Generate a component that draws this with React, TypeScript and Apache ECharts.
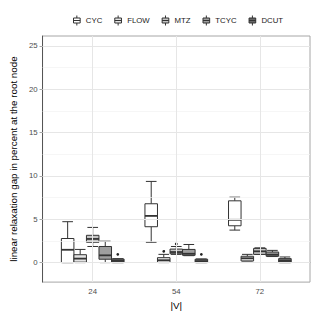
import React, { useEffect, useRef } from "react";
import * as echarts from "echarts";

const groups = ["24", "54", "72"];
const methods = ["CYC", "FLOW", "MTZ", "TCYC", "DCUT"];
const fills = ["#ffffff", "#e4e4e4", "#c5c5c5", "#9e9e9e", "#666666"];

// [lowerWhisker, q1, median, q3, upperWhisker] per |V| group
const cycStats = [
  [0, 0, 1.48, 2.78, 4.72],
  [2.35, 4.14, 5.39, 6.79, 9.37],
  [3.75, 4.25, 4.94, 7.13, 7.55],
];
const flowStats = [
  [0, 0.05, 0.46, 0.91, 1.52],
  [0, 0.02, 0.27, 0.57, 0.95],
  [0.19, 0.19, 0.5, 0.73, 0.95],
];
const mtzStats = [
  [1.86, 2.35, 2.73, 3.15, 4.06],
  [0.95, 1.02, 1.22, 1.56, 1.86],
  [0.95, 0.95, 1.3, 1.64, 1.7],
];
const tcycStats = [
  [0, 0.39, 0.84, 1.86, 2.47],
  [0.8, 0.84, 1.02, 1.52, 2.09],
  [0.7, 0.73, 0.91, 1.22, 1.41],
];
const dcutStats = [
  [0, 0, 0.19, 0.42, 0.45],
  [0, 0, 0.15, 0.39, 0.42],
  [0, 0, 0.19, 0.46, 0.65],
];
// outliers: [groupIndex, value]
const cycOut: number[][] = [];
const flowOut = [[1, 1.3]];
const mtzOut = [[1, 2.16]];
const tcycOut: number[][] = [];
const dcutOut = [
  [0, 0.95],
  [1, 0.95],
];

const yTicks = [0, 5, 10, 15, 20, 25];
const yMinor = [2.5, 7.5, 12.5, 17.5, 22.5];
const xTicks = [1, 2, 3];

const allStats = [cycStats, flowStats, mtzStats, tcycStats, dcutStats];
const allOut = [cycOut, flowOut, mtzOut, tcycOut, dcutOut];

const FONT = "Liberation Sans";
const DODGE = 0.15;

export default function App() {
  const ref = useRef<HTMLDivElement>(null);
  useEffect(() => {
    if (!ref.current) return;
    document.body.style.margin = "0";
    const chart = echarts.init(ref.current, null, { renderer: "svg" });

    const boxSeries = methods.map((name, s) => {
      const data = allStats[s].map((st, g) => {
        const outs = allOut[s].filter((o) => o[0] === g).map((o) => o[1]);
        return [g, ...st, ...outs];
      });
      return {
        name,
        type: "custom",
        z: 3,
        itemStyle: { color: fills[s] },
        data,
        renderItem: (params: any, api: any) => {
          const g = api.value(0);
          const xc = g + 1 + (s - 2) * DODGE;
          const lo = api.coord([xc, api.value(1)]);
          const q1 = api.coord([xc, api.value(2)]);
          const med = api.coord([xc, api.value(3)]);
          const q3 = api.coord([xc, api.value(4)]);
          const hi = api.coord([xc, api.value(5)]);
          const w = api.size([DODGE, 0])[0];
          const hw = w / 2;
          const cw = hw * 0.85;
          const x = lo[0];
          const stroke = "#333333";
          const children: any[] = [
            { type: "line", shape: { x1: x, y1: hi[1], x2: x, y2: q3[1] }, style: { stroke, lineWidth: 1 } },
            { type: "line", shape: { x1: x, y1: q1[1], x2: x, y2: lo[1] }, style: { stroke, lineWidth: 1 } },
            { type: "line", shape: { x1: x - cw, y1: hi[1], x2: x + cw, y2: hi[1] }, style: { stroke, lineWidth: 1 } },
            { type: "line", shape: { x1: x - cw, y1: lo[1], x2: x + cw, y2: lo[1] }, style: { stroke, lineWidth: 1 } },
            {
              type: "rect",
              shape: { x: x - hw, y: q3[1], width: w, height: Math.max(q1[1] - q3[1], 0.5) },
              style: { fill: fills[s], stroke, lineWidth: 1 },
            },
            { type: "line", shape: { x1: x - hw, y1: med[1], x2: x + hw, y2: med[1] }, style: { stroke, lineWidth: 1.8 } },
          ];
          const item = data[params.dataIndex];
          for (let k = 6; k < item.length; k++) {
            const p = api.coord([xc, item[k]]);
            children.push({ type: "circle", shape: { cx: p[0], cy: p[1], r: 1.4 }, style: { fill: "#222222" } });
          }
          return { type: "group", children };
        },
      };
    });

    const gridSeries = {
      name: "grid",
      type: "line",
      data: [],
      z: 1,
      silent: true,
      markLine: {
        silent: true,
        symbol: "none",
        animation: false,
        label: { show: false },
        data: [
          ...yMinor.map((v) => ({ yAxis: v, lineStyle: { color: "#f2f2f2", width: 0.7, type: "solid" } })),
          ...yTicks.map((v) => ({ yAxis: v, lineStyle: { color: "#e6e6e6", width: 1, type: "solid" } })),
          ...xTicks.map((v) => ({ xAxis: v, lineStyle: { color: "#e6e6e6", width: 1, type: "solid" } })),
        ],
      },
    };

    const legendPath = "path://M1,3 L9,3 L9,9 L1,9 Z M5,0 L5,3 M5,9 L5,12 M1,6 L9,6";

    chart.setOption({
      animation: false,
      textStyle: { fontFamily: FONT },
      legend: {
        data: methods,
        top: 10,
        left: 68,
        icon: legendPath,
        itemWidth: 8,
        itemHeight: 10,
        itemGap: 12,
        itemStyle: { borderColor: "#333333", borderWidth: 1 },
        textStyle: { fontSize: 7.8, color: "#1a1a1a", fontFamily: FONT },
      },
      grid: {
        left: 31,
        right: 5,
        top: 36,
        bottom: 29.5,
        show: true,
        borderColor: "#a6a6a6",
        borderWidth: 1,
        backgroundColor: "transparent",
      },
      xAxis: {
        type: "value",
        min: 0.4,
        max: 3.6,
        name: "|V|",
        nameLocation: "middle",
        nameGap: 15,
        nameTextStyle: { fontSize: 9.8, color: "#000000", fontFamily: FONT },
        axisLine: { show: true, lineStyle: { color: "#a6a6a6", width: 1 } },
        axisTick: { show: true, length: 3, customValues: xTicks, lineStyle: { color: "#a6a6a6" } },
        axisLabel: {
          customValues: xTicks,
          margin: 5,
          fontSize: 7.8,
          color: "#4d4d4d",
          fontFamily: FONT,
          formatter: (v: number) => groups[Math.round(v) - 1] ?? "",
        },
        splitLine: { show: false },
      },
      yAxis: {
        type: "value",
        min: -2.25,
        max: 26.15,
        name: "linear relaxation gap in percent at the root node",
        nameLocation: "middle",
        nameGap: 18,
        nameTextStyle: { fontSize: 9.8, color: "#000000", fontFamily: FONT },
        axisLine: { show: true, lineStyle: { color: "#555555", width: 1 } },
        axisTick: { show: true, length: 3, customValues: yTicks, lineStyle: { color: "#a6a6a6" } },
        axisLabel: {
          customValues: yTicks,
          margin: 5,
          fontSize: 7.8,
          color: "#4d4d4d",
          fontFamily: FONT,
        },
        splitLine: { show: false },
      },
      series: [gridSeries, ...boxSeries],
    });
    return () => chart.dispose();
  }, []);
  return <div ref={ref} style={{ width: 315, height: 315 }} />;
}
